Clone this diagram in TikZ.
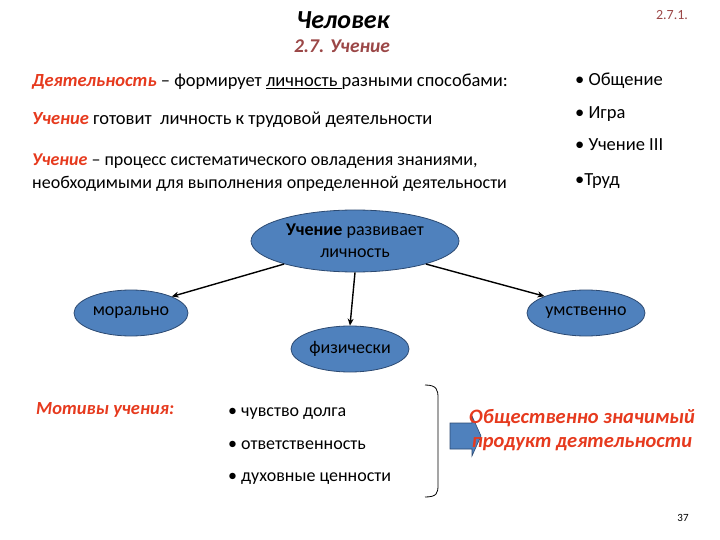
\documentclass[tikz,border=0pt]{standalone}
\usepackage{fontspec}
\setmainfont{Carlito}
\usetikzlibrary{shapes.geometric,arrows.meta}
\definecolor{hdred}{HTML}{E63A1E}
\definecolor{hdbrown}{HTML}{9B4747}
\definecolor{bfill}{HTML}{4F81BD}
\definecolor{bline}{HTML}{2C4A72}

\begin{document}
\begin{tikzpicture}[x=1pt,y=-1pt,
  txt/.style={inner sep=0pt, anchor=base west, font=\fontsize{18.5}{22}\selectfont},
  key/.style={text=hdred, font=\bfseries\itshape},
  bubble/.style={draw=bline, line width=0.8pt, fill=bfill, ellipse, inner sep=0pt,
    align=center, font=\fontsize{18}{22}\selectfont},
  edge/.style={line width=1.4pt, -{Stealth[length=7pt,width=6pt]}}]
  \useasboundingbox (0,0) rectangle (720,540);
  % heading
  \node[font=\fontsize{26}{30}\selectfont\bfseries\itshape] (ttl) at (343,20) {Человек};
  \node[text=hdbrown, font=\fontsize{14}{16}\selectfont] (num) at (672,15) {2.7.1.};
  \node[text=hdbrown, font=\fontsize{19.5}{22}\selectfont\bfseries\itshape] (sub) at (342,46) {2.7. Учение};
  % definitions
  \node[txt] (l1) at (32,87) {{\color{hdred}\bfseries\itshape Деятельность} -- формирует \underline{личность }разными способами:};
  \node[txt] (l2) at (32,125) {{\color{hdred}\bfseries\itshape Учение} готовит\ \ личность к трудовой деятельности};
  \node[txt, font=\fontsize{18}{22}\selectfont] (l3) at (32,166) {{\color{hdred}\bfseries\itshape Учение} -- процесс систематического овладения знаниями,};
  \node[txt, font=\fontsize{18}{22}\selectfont] (l4) at (32,189) {необходимыми для выполнения определенной деятельности};
  % kinds of activity
  \node[txt] (k1) at (575,86) {• Общение};
  \node[txt] (k2) at (575,119) {• Игра};
  \node[txt] (k3) at (575,151) {• Учение III};
  \node[txt] (k4) at (575,186) {•Труд};
  % diagram
  \node[bubble, minimum width=208, minimum height=62] (u) at (355,241)
    {\textbf{Учение} развивает\\личность};
  \node[bubble, minimum width=114, minimum height=46] (m) at (131,313) {морально};
  \node[bubble, minimum width=118, minimum height=46] (p) at (350,349) {физически};
  \node[bubble, minimum width=118, minimum height=46] (s) at (586,313) {умственно};
  \draw[edge] (u.south) -- (p.north);
  \draw[edge] (u.-162) -- (m.22);
  \draw[edge] (u.-18) -- (s.158);
  % motives
  \node[txt, key, font=\fontsize{18.5}{22}\selectfont\bfseries\itshape] (mot) at (36,414) {Мотивы учения:};
  \node[txt, font=\fontsize{18}{22}\selectfont] (b1) at (228,416) {• чувство долга};
  \node[txt, font=\fontsize{18}{22}\selectfont] (b2) at (228,449) {• ответственность};
  \node[txt, font=\fontsize{18}{22}\selectfont] (b3) at (228,481) {• духовные ценности};
  \draw[line width=0.8pt] (425,385) .. controls (437,385) and (438,390) .. (438,398)
    -- (438,485) .. controls (438,493) and (437,497) .. (425,497);
  \draw[bline, fill=bfill, line width=0.6pt] (450,423) -- (472,423) -- (472,416) -- (481,436)
    -- (472,456) -- (472,449) -- (450,449) -- cycle;
  \node[text=hdred, align=center, font=\fontsize{20.5}{24}\selectfont\bfseries\itshape] (res) at (582,430)
    {Общественно значимый\\продукт деятельности};
  \node[font=\fontsize{11}{13}\selectfont] (pg) at (683,518) {37};
\end{tikzpicture}
\end{document}
